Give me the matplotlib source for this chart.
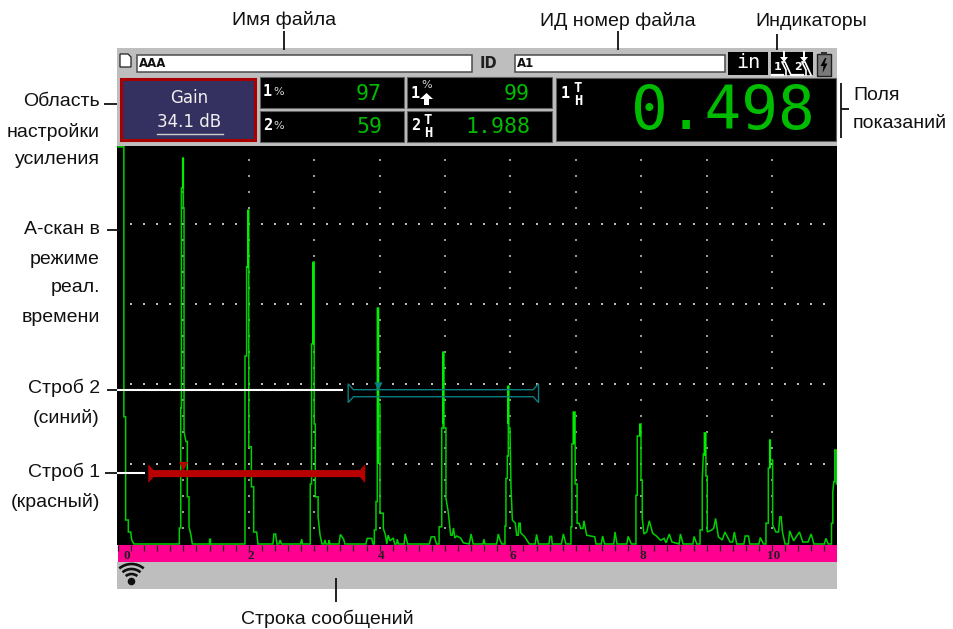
import matplotlib
matplotlib.use('Agg')
import matplotlib.pyplot as plt
from matplotlib.patches import Rectangle, Polygon, Arc

W, H = 954, 629

# trace of the a-scan, (ruler units, % height), one list per echo
main_bang = [(0.0, 99.3), (0.09, 99.3), (0.09, 31.8), (0.117, 31.8), (0.117, 6), (0.158, 6), (0.158, 3), (0.194, 3),
             (0.21, 1), (0.245, 0), (0.938, 0)]
echo_1 = [(0.938, 4), (0.96, 4), (0.96, 34), (0.97, 34), (0.97, 89), (0.989, 89), (0.989, 96.5), (1.0, 96.5),
          (1.0, 84), (1.01, 84), (1.01, 28), (1.04, 25.6), (1.06, 25.6), (1.06, 11.8), (1.086, 11.8), (1.086, 4.3),
          (1.116, 2.2), (1.137, 0), (1.40, 0), (1.40, 1.2), (1.415, 1.2), (1.415, 0), (1.942, 0)]
echo_2 = [(1.942, 47), (1.967, 47), (1.967, 69.3), (1.988, 69.3), (1.988, 83.5), (2.0, 83.5), (2.0, 24.3),
          (2.04, 24.3), (2.04, 14.3), (2.075, 14.3), (2.075, 3), (2.12, 3), (2.14, 0), (2.37, 0), (2.385, 2.5),
          (2.41, 2.5), (2.43, 0), (2.46, 0), (2.48, 1), (2.50, 0), (2.79, 0), (2.81, 1.2), (2.82, 0), (2.94, 0)]
echo_3 = [(2.94, 15), (2.96, 15), (2.96, 50), (2.987, 50), (2.987, 70.5), (3.0, 70.5), (3.0, 30), (3.017, 30),
          (3.017, 11.8), (3.06, 11.8), (3.06, 6.8), (3.09, 2.2), (3.12, 0), (3.15, 0), (3.165, 1), (3.18, 0),
          (3.22, 0), (3.23, 1), (3.24, 0), (3.38, 0), (3.40, 2.4), (3.45, 1.2), (3.47, 0), (3.79, 0), (3.81, 1.4),
          (3.88, 1.4), (3.90, 0), (3.92, 0)]
echo_4 = [(3.92, 3.5), (3.945, 3.5), (3.945, 10.6), (3.965, 10.6), (3.965, 59), (3.985, 59), (3.985, 35),
          (4.006, 35), (4.006, 7.7), (4.057, 7.7), (4.057, 3.9), (4.09, 2.2), (4.11, 0), (4.13, 2.2), (4.16, 0.8),
          (4.21, 1.5), (4.23, 0), (4.26, 0), (4.27, 1.2), (4.29, 0), (4.375, 0), (4.39, 2.5), (4.43, 0), (4.76, 0),
          (4.79, 1.8), (4.84, 1.8), (4.87, 0), (4.91, 0)]
echo_5 = [(4.91, 4.3), (4.95, 4.3), (4.95, 29), (4.97, 29), (4.97, 48), (4.985, 48), (4.985, 29), (5.015, 29),
          (5.015, 11.4), (5.05, 8), (5.087, 2.2), (5.11, 2.2), (5.13, 4), (5.15, 1.5), (5.18, 2), (5.24, 1.5),
          (5.28, 0.3), (5.37, 0), (5.40, 2.5), (5.43, 0), (5.58, 0), (5.596, 1.2), (5.61, 0), (5.79, 0),
          (5.815, 2.5), (5.84, 1), (5.87, 0), (5.917, 0)]
echo_6 = [(5.917, 4.5), (5.932, 4.5), (5.932, 16.4), (5.953, 16.4), (5.953, 22), (5.968, 22), (5.968, 39.5),
          (5.976, 39.5), (5.976, 29), (5.994, 29), (6.009, 14.3), (6.03, 6), (6.075, 5.2), (6.096, 2.2), (6.12, 2.2),
          (6.13, 5.2), (6.15, 5.2), (6.157, 2.8), (6.22, 1.8), (6.29, 0), (6.38, 0), (6.40, 2.4), (6.43, 0),
          (6.59, 0), (6.605, 1.9), (6.63, 1.9), (6.64, 0), (6.78, 0), (6.81, 2.5), (6.85, 0), (6.926, 0)]
echo_7 = [(6.926, 4.3), (6.94, 4.3), (6.94, 25), (6.96, 25), (6.96, 33), (6.99, 33), (6.99, 15), (7.02, 15),
          (7.02, 5.2), (7.05, 5.2), (7.075, 3.9), (7.11, 3.9), (7.125, 5.8), (7.166, 2.2), (7.29, 1.8), (7.31, 0),
          (7.39, 0), (7.41, 2), (7.44, 0), (7.58, 0), (7.6, 3), (7.63, 0), (7.78, 0), (7.8, 1.9), (7.85, 0),
          (7.92, 0)]
echo_8 = [(7.92, 12.2), (7.94, 12.2), (7.94, 27), (7.98, 27), (7.98, 30), (7.997, 30), (7.997, 16), (8.017, 16),
          (8.017, 6.4), (8.042, 2.5), (8.085, 3), (8.124, 5.8), (8.175, 2.7), (8.24, 1.9), (8.29, 1), (8.31, 1),
          (8.35, 1.4), (8.38, 0.3), (8.43, 2.5), (8.47, 0.5), (8.58, 0), (8.6, 2.5), (8.64, 0), (8.79, 0),
          (8.81, 1.9), (8.85, 0), (8.9, 0)]
echo_9 = [(8.9, 3.5), (8.934, 3.5), (8.934, 16), (8.95, 22.5), (8.965, 22.5), (8.965, 27.8), (8.99, 27.8),
          (8.99, 17), (9.01, 17), (9.01, 3), (9.08, 3.5), (9.11, 4), (9.138, 6.4), (9.18, 1.8), (9.24, 1),
          (9.28, 3), (9.36, 0.5), (9.40, 0.5), (9.424, 3), (9.46, 0), (9.57, 0), (9.59, 2), (9.64, 2), (9.66, 0),
          (9.8, 0), (9.82, 1.6), (9.87, 0), (9.908, 0)]
echo_10 = [(9.908, 5.2), (9.944, 5.2), (9.944, 19), (9.964, 19), (9.964, 26), (9.975, 26), (9.975, 21), (9.985, 21),
           (10.01, 21), (10.01, 4.75), (10.06, 3), (10.10, 3), (10.12, 6.8), (10.14, 6.8), (10.16, 3), (10.2, 0),
           (10.25, 0), (10.27, 3.3), (10.33, 0.8), (10.42, 3), (10.47, 0.5), (10.55, 0.5), (10.6, 2.5), (10.64, 0),
           (10.80, 0), (10.825, 1.4), (10.86, 0), (10.91, 0), (10.91, 5.2), (10.93, 5.2), (10.93, 13), (10.945, 15.6),
           (10.96, 15.6), (10.96, 23.5), (10.985, 23.5), (10.985, 15)]
echoes = [main_bang, echo_1, echo_2, echo_3, echo_4, echo_5, echo_6, echo_7, echo_8, echo_9, echo_10]

peak_x = [0.989, 1.988, 2.987, 3.975, 4.977, 5.968, 6.975, 7.987, 8.977, 9.964]
peak_top = [96.5, 83.5, 70.5, 59, 48, 39.5, 33, 30, 27.8, 26]
peak_core = [89, 69, 50, 20, 30, 30, 25, 27, 22, 19]

# gates, ruler units and %
gate1_start, gate1_end, gate1_level, gate1_mark = 0.463, 3.78, 17.6, 0.995
gate2_start, gate2_end, gate2_level, gate2_mark = 3.52, 6.43, 37.7, 3.975

grid_major = [1, 2, 3, 4, 5, 6, 7, 8, 9, 10]
grid_rows = [20, 40, 60, 80]
ruler_labels = [0, 2, 4, 6, 8, 10]

reading_1_pct = '97'
reading_2_pct = '59'
reading_1_peak = '99'
reading_2_h = '1.988'
reading_big = '0.498'
gain_title = 'Gain'
gain_value = '34.1 dB'
file_name = 'AAA'
file_id = 'A1'
unit = 'in'

# callouts: text, right edge or centre, y
left_labels = [('Область', 102), ('настройки', 132), ('усиления', 160),
               ('А-скан в', 230), ('режиме', 259), ('реал.', 288), ('времени', 317),
               ('Строб 2', 388), ('(синий)', 418), ('Строб 1', 472), ('(красный)', 502)]
top_labels = [('Имя файла', 284, 20), ('ИД номер файла', 618, 21), ('Индикаторы', 811, 21),
              ('Строка сообщений', 327, 619)]

GREEN = '#00bc00'
TXT = 'Liberation Sans'
MONO = 'DejaVu Sans Mono'
SANS = 'DejaVu Sans'
LABEL_SIZE = 14

fig = plt.figure(figsize=(W / 100, H / 100), dpi=100, facecolor='white')


def box(px0, py0, px1, py1):
    return [px0 / W, 1 - py1 / H, (px1 - px0) / W, (py1 - py0) / H]


def gate_outline(start, end, level):
    # flared ends, wide side outwards
    xs = [start, start + 0.08, end - 0.08, end, end, end - 0.08, start + 0.08, start]
    ys = [level + 2.35, level + 0.88, level + 0.88, level + 2.35, level - 2.35, level - 0.88, level - 0.88, level - 2.35]
    return xs, ys


# a-scan
ax = fig.add_axes(box(117, 146, 837, 545), facecolor='black')
ax.set_xlim(-0.015, 10.994)
ax.set_ylim(-0.25, 99.5)
ax.set_xticks([])
ax.set_yticks([])
for s in ax.spines.values():
    s.set_visible(False)

grid_levels = list(range(4, 96 + 1, 4))
for g in grid_major:
    ax.scatter([g] * len(grid_levels), grid_levels, marker='s', s=1.6, color='#9a9a9a', linewidths=0, zorder=1)
for r in grid_rows:
    ax.scatter([i * 0.2 for i in range(1, 55)], [r] * 54, marker='s', s=1.6, color='#bdbdbd', linewidths=0, zorder=1)

trace_x = [p[0] for e in echoes for p in e]
trace_y = [p[1] for e in echoes for p in e]
ax.plot(trace_x, trace_y, color='#00d000', lw=1.1, solid_joinstyle='miter', zorder=2)
# bright core of the tall echoes
ax.vlines(peak_x, peak_core, peak_top, color='#00f000', lw=1.4, zorder=3)

# gate 1, filled
RED = '#b80000'
gx, gy = gate_outline(gate1_start, gate1_end, gate1_level)
ax.fill(gx, gy, color=RED, linewidth=0, zorder=4)
ax.scatter([gate1_mark], [gate1_level + 2.0], marker='v', s=42, color=RED, linewidths=0, zorder=4)
# gate 2, outline
TEAL = '#0b7f80'
gx, gy = gate_outline(gate2_start, gate2_end, gate2_level)
ax.fill(gx, gy, facecolor='none', edgecolor=TEAL, linewidth=1.0, zorder=4)
ax.scatter([gate2_mark], [gate2_level + 1.8], marker='v', s=36, color=TEAL, linewidths=0, zorder=4)

# ruler
rul = fig.add_axes(box(118, 545, 837, 562), facecolor='#ff0090')
rul.set_xlim(-0.0, 10.994)
rul.set_ylim(0, 1)
rul.set_yticks([])
rul.set_xticks([i * 0.2 for i in range(0, 55)])
rul.tick_params(axis='x', top=True, bottom=False, labelbottom=False, direction='in', length=4.2, width=0.9,
                color='#202020')
for s in rul.spines.values():
    s.set_visible(False)
for v in ruler_labels:
    rul.text(v + (0.14 if v == 0 else 0.03), 0.36, str(v), ha='center', va='center', fontsize=9.5, fontweight='bold',
             family='Liberation Serif', color='#202020')

# everything else is placed in pixels on a full figure overlay
ui = fig.add_axes([0, 0, 1, 1], facecolor='none')
ui.set_xlim(0, W)
ui.set_ylim(H, 0)
ui.axis('off')


def rect(x0, y0, x1, y1, fc, ec='none', lw=0.0, z=2):
    ui.add_patch(Rectangle((x0, y0), x1 - x0, y1 - y0, facecolor=fc, edgecolor=ec, linewidth=lw, zorder=z))


# header panel and footer
rect(117, 48, 837, 146, '#bebebe', z=1)
rect(117, 562, 837, 589, '#bebebe', z=1)

# file icon and fields
ui.add_patch(Polygon([(120, 54), (128, 54), (131, 57), (131, 67), (120, 67)], closed=True, facecolor='white',
                     edgecolor='#202020', linewidth=0.9, zorder=3))
rect(137, 54.5, 472.5, 72, 'white', '#4a4a4a', 1.1)
rect(515, 54.5, 725.5, 72, 'white', '#4a4a4a', 1.1)
ui.text(139, 63.5, file_name, fontsize=8.5, fontweight='bold', family=SANS, va='center', color='#101010', zorder=4)
ui.text(517, 63.5, file_id, fontsize=8.5, fontweight='bold', family=SANS, va='center', color='#101010', zorder=4)
ui.text(488, 63.5, 'ID', fontsize=10.5, fontweight='bold', family=SANS, ha='center', va='center', color='#202020', zorder=4)

# unit and indicators
rect(728, 52, 768, 75, 'black')
ui.text(748, 63, unit, fontsize=14.5, family=MONO, ha='center', va='center', color='white', zorder=4)
rect(771, 52, 813, 75, 'black')
for ind_x, ind_lab in [(777, '1'), (797, '2')]:
    ui.text(ind_x + 1, 67, ind_lab, fontsize=8, fontweight='bold', family=SANS, ha='center', va='center',
            color='white', zorder=4)
    ui.plot([ind_x - 5, ind_x + 6], [74.5, 74.5], color='white', lw=1.6, zorder=4)
    ui.plot([ind_x + 7, ind_x + 7], [52, 58], color='white', lw=1.4, zorder=4)
    ui.add_patch(Polygon([(ind_x + 3, 57), (ind_x + 11, 57), (ind_x + 7, 62)], closed=True, facecolor='white', zorder=4))
    ui.plot([ind_x + 6, ind_x + 8, ind_x + 14], [62, 62, 75], color='white', lw=1.2, zorder=4)
    ui.plot([ind_x + 5, ind_x + 9, ind_x + 9], [62, 70, 75], color='white', lw=1.2, zorder=4)
# battery
rect(817, 54, 831, 76, '#7a7a7a', '#202020', 1.0)
rect(821, 52, 827, 55, '#303030')
ui.add_patch(Polygon([(825, 58), (820.5, 66), (823.5, 66), (822.5, 73), (827.5, 63.5), (824.5, 63.5), (826.5, 58)],
                     closed=True, facecolor='black', zorder=4))

# gain box
rect(121, 79, 255, 139.5, '#34305f', '#a80000', 2.2)
ui.text(189.5, 98, gain_title, fontsize=12, family=SANS, ha='center', va='center', color='#f0f0f0', zorder=4)
ui.text(189.5, 122, gain_value, fontsize=12, family=SANS, ha='center', va='center', color='#f0f0f0', zorder=4)
ui.plot([157, 223], [134, 134], color='#d0d0d0', lw=1.0, zorder=4)

# reading boxes
rect(260, 77, 404, 108, 'black', '#606060', 0.8)
rect(260, 111, 404, 142, 'black', '#606060', 0.8)
rect(407, 77, 552, 108, 'black', '#606060', 0.8)
rect(407, 111, 552, 142, 'black', '#606060', 0.8)
rect(556, 78, 836, 141, 'black', '#606060', 0.8)

ui.text(382, 94, reading_1_pct, fontsize=15.5, family=MONO, ha='right', va='center', color=GREEN, zorder=4)
ui.text(382, 127, reading_2_pct, fontsize=15.5, family=MONO, ha='right', va='center', color=GREEN, zorder=4)
ui.text(530, 94, reading_1_peak, fontsize=15.5, family=MONO, ha='right', va='center', color=GREEN, zorder=4)
ui.text(530, 127, reading_2_h, fontsize=15.5, family=MONO, ha='right', va='center', color=GREEN, zorder=4)
ui.text(815, 113, reading_big, fontsize=44, family=MONO, ha='right', va='center', color=GREEN, zorder=4)

# reading labels: gate number plus a small sign
for lx, ly, num in [(263, 92, '1'), (263, 126, '2')]:
    ui.text(lx, ly, num, fontsize=11, fontweight='bold', family=MONO, va='center', color='white', zorder=4)
    ui.text(lx + 10, ly, '%', fontsize=8, family=SANS, va='center', color='#d8d8d8', zorder=4)
ui.text(411, 93, '1', fontsize=11, fontweight='bold', family=MONO, va='center', color='white', zorder=4)
ui.text(421, 85, '%', fontsize=8, family=SANS, va='center', color='#d8d8d8', zorder=4)
ui.add_patch(Polygon([(424, 105), (429, 105), (429, 99), (433, 99), (426.5, 93), (420, 99), (424, 99)], closed=True,
                     facecolor='white', zorder=4))
for lx, ly, num in [(411, 126, '2'), (561, 94, '1')]:
    ui.text(lx, ly, num, fontsize=11, fontweight='bold', family=MONO, va='center', color='white', zorder=4)
    ui.text(lx + 17, ly - 6.5, 'T', fontsize=10, fontweight='bold', family=MONO, ha='center', va='center', color='white',
            zorder=4)
    ui.text(lx + 17, ly + 7, 'H', fontsize=10, fontweight='bold', family=MONO, ha='center', va='center', color='white',
            zorder=4)

# wifi icon
for wr in [19, 14, 9]:
    ui.add_patch(Arc((131.5, 583), wr * 2, wr * 2, theta1=230, theta2=310, color='#101010', lw=1.9, zorder=4))
ui.scatter([131.5], [581], s=30, color='#101010', linewidths=0, zorder=4)

# callout text
for txt, y in left_labels:
    ui.text(100, y, txt, fontsize=LABEL_SIZE, family=TXT, ha='right', va='center', color='#111111')
for txt, x, y in top_labels:
    ui.text(x, y, txt, fontsize=LABEL_SIZE, family=TXT, ha='center', va='center', color='#111111')
ui.text(853, 96, 'Поля', fontsize=LABEL_SIZE, family=TXT, va='center', color='#111111')
ui.text(853, 124, 'показаний', fontsize=LABEL_SIZE, family=TXT, va='center', color='#111111')

# callout lines
for x0, y0, x1, y1 in [(284, 31, 284, 50), (618, 31, 618, 50), (777, 34, 777, 50), (104, 104, 117, 104),
                       (107, 230, 120, 230), (841, 83, 841, 138), (841, 109, 849, 109), (336, 578, 336, 602),
                       (107, 390, 117, 390), (105, 473, 117, 473)]:
    ui.plot([x0, x1], [y0, y1], color='#101010', lw=1.3, solid_capstyle='butt', zorder=5)
ui.plot([117, 343], [390, 390], color='white', lw=1.5, solid_capstyle='butt', zorder=5)
ui.plot([117, 145], [473, 473], color='white', lw=1.5, solid_capstyle='butt', zorder=5)

fig.savefig('out.png', dpi=100)
